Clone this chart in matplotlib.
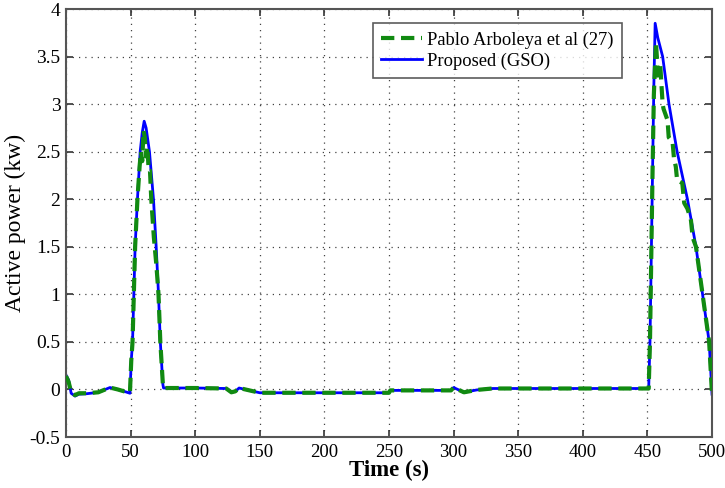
import matplotlib
matplotlib.use("Agg")
import matplotlib.pyplot as plt

# ---- data (time in s, power in kW) -------------------------------------------

t_gso = [0, 2, 4, 7, 10, 16, 25, 34, 40, 45, 49.5,
         50.5, 51.5, 53.5, 55.3, 57.4, 59, 60.5, 62, 64.6, 67.7, 69.8, 71.6, 73, 75, 75.5,
         100, 124, 128, 131, 134, 142, 150, 200, 250, 251, 298, 300, 308, 318, 330,
         400, 451, 452, 453, 454, 455, 456,
         458, 461.8, 466.7, 473, 481, 487.6, 492.7, 497.8, 499, 500]
p_gso = [0.15, 0.1, -0.04, -0.07, -0.05, -0.045, -0.03, 0.02, 0.0, -0.02, -0.04,
         0.3, 0.5, 1.5, 2.0, 2.5, 2.7, 2.82, 2.75, 2.5, 2.0, 1.5, 1.0, 0.5, 0.05, 0.015,
         0.015, 0.01, -0.03, -0.02, 0.015, -0.01, -0.035, -0.035, -0.035, -0.01, -0.01, 0.02, -0.03, -0.005, 0.01,
         0.01, 0.01, 0.5, 1.4, 2.3, 3.2, 3.85,
         3.7, 3.5, 3.0, 2.5, 2.0, 1.5, 1.0, 0.5, 0.2, -0.05]

t_arb = [0, 2, 4, 7, 10, 16, 25, 34, 40, 45, 49.5,
         50.5, 51.5, 53.5, 55.3, 57, 58, 59, 60, 61, 62, 63, 64, 65, 66, 68, 70, 71.6, 73, 75, 75.5,
         100, 124, 128, 131, 134, 142, 150, 200, 250, 251, 298, 300, 308, 318, 330,
         400, 451, 452, 453, 454, 455, 456.6,
         457.5, 458, 460, 461.8, 462.5, 465.6, 466.5, 469.5, 470.5, 472, 473, 477, 478.5,
         481, 483.7, 485, 487.6, 492.7, 497.8, 499, 500]
p_arb = [0.14, 0.08, -0.03, -0.06, -0.04, -0.04, -0.03, 0.02, 0.0, -0.02, -0.03,
         0.3, 0.5, 1.5, 2.0, 2.35, 2.5, 2.4, 2.72, 2.65, 2.45, 2.55, 2.3, 2.3, 2.0, 1.6, 1.3, 1.0, 0.5, 0.05, 0.015,
         0.015, 0.01, -0.03, -0.02, 0.015, -0.01, -0.035, -0.035, -0.035, -0.01, -0.01, 0.02, -0.03, -0.005, 0.01,
         0.01, 0.01, 0.5, 1.4, 2.3, 3.1, 3.65,
         3.46, 3.3, 3.4, 3.0, 2.95, 2.83, 2.65, 2.6, 2.44, 2.34, 2.2, 2.17, 1.96,
         1.9, 1.78, 1.6, 1.5, 1.0, 0.5, 0.2, -0.05]

x_ticks = list(range(0, 501, 50))
y_ticks = [-0.5, 0, 0.5, 1, 1.5, 2, 2.5, 3, 3.5, 4]
y_labels = ["-0.5", "0", "0.5", "1", "1.5", "2", "2.5", "3", "3.5", "4"]

plt.rcParams["font.family"] = ["Liberation Serif", "DejaVu Serif"]

fig = plt.figure(figsize=(7.25, 4.88), dpi=100)
ax = fig.add_axes([66 / 725, 1 - 437 / 488, (712 - 66) / 725, (437 - 9) / 488])

ax.plot(t_gso, p_gso, color="#0000ff", lw=2.0, label="Proposed (GSO)", zorder=2)
ax.plot(t_arb, p_arb, color="#118a11", lw=3.0, ls=(0, (3.2, 1.6)),
        label="Pablo Arboleya et al (27)", zorder=3)

ax.set_xlim(0, 500)
ax.set_ylim(-0.5, 4)
ax.set_xticks(x_ticks)
ax.set_yticks(y_ticks)
ax.set_yticklabels(y_labels)
ax.tick_params(direction="in", top=True, right=True, labelsize=14, length=5,
               width=1.2, color="#333333")
ax.tick_params(axis="x", pad=5, labelsize=13.5)
ax.tick_params(axis="y", pad=4)
ax.grid(True, color="#444444", ls=(0, (1, 4)), lw=0.9)
for s in ax.spines.values():
    s.set_color("#555555")
    s.set_linewidth(1.5)

ax.set_xlabel("Time (s)", fontsize=16.5, fontweight="bold", labelpad=-1)
ax.set_ylabel("Active power (kw)", fontsize=17, labelpad=3)

handles, labels = ax.get_legend_handles_labels()
leg = ax.legend(handles[::-1], labels[::-1], loc="upper left",
                bbox_to_anchor=((373 - 66) / 646, 1 - (23 - 9) / 428),
                fontsize=13.3, frameon=True, fancybox=False, borderpad=0.45,
                handlelength=2.2, handletextpad=0.3, labelspacing=0.2,
                borderaxespad=0)
leg.get_frame().set_edgecolor("#333333")
leg.get_frame().set_linewidth(1.2)

fig.savefig("out.png", dpi=100)
